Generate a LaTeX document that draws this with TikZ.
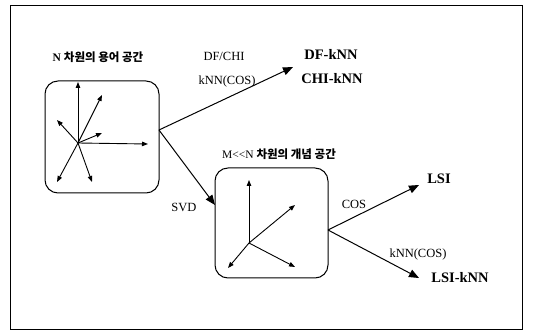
\documentclass[tikz,border=0pt]{standalone}
\usepackage{fontspec}
\setmainfont{Liberation Serif}
\newfontfamily\kr{Noto Sans CJK KR}
\usetikzlibrary{arrows.meta}
\tikzset{
  frame/.style={draw, line width=0.9pt},
  spacebox/.style={draw, line width=1pt, rounded corners=13pt, minimum width=114pt, minimum height=112pt, inner sep=0pt},
  vec/.style={line width=0.9pt, -{Triangle[length=6pt,width=4.5pt]}},
  conn/.style={line width=1pt, -{Triangle[length=10pt,width=8pt]}},
  lab/.style={font=\fontsize{12.5}{14}\selectfont, inner sep=0pt},
  res/.style={font=\fontsize{14.5}{16}\selectfont\bfseries, inner sep=0pt},
  krlab/.style={font=\fontsize{11.5}{13}\selectfont, inner sep=0pt}
}
\begin{document}
\begin{tikzpicture}[x=1pt,y=-1pt]
\useasboundingbox (0,0) rectangle (533,331);
\draw[frame] (10,5) rectangle (522,329);

% boxes
\node[spacebox] (b1) at (102,137) {};
\node[spacebox, minimum width=113pt, minimum height=110pt] (b2) at (271.5,223) {};

% vectors in box 1
\coordinate (o1) at (78,143);
\draw[vec] (o1) -- (78,82);
\draw[vec] (o1) -- (102,95);
\draw[vec] (o1) -- (57,120);
\draw[vec] (o1) -- (102,133);
\draw[vec] (o1) -- (148,144);
\draw[vec] (o1) -- (57,182);
\draw[vec] (o1) -- (92,182);

% vectors in box 2
\coordinate (o2) at (249,243);
\draw[vec] (o2) -- (249,180);
\draw[vec] (o2) -- (295,205);
\draw[vec] (o2) -- (228,268);
\draw[vec] (o2) -- (295,267);

% labels
\node[krlab] (t1) at (98,57) {\textbf{N} {\kr\bfseries 차원의 용어 공간}};
\node[krlab] (t2) at (279,154) {M{<}{<}N {\kr\bfseries 차원의 개념 공간}};
\node[lab] (dfchi) at (224,56) {DF/CHI};
\node[lab] (knn1) at (227,81) {kNN(COS)};
\node[lab] (svd) at (184,207) {SVD};
\node[lab] (cos) at (354,204) {COS};
\node[lab] (knn2) at (418,254) {kNN(COS)};
\node[res] (dfknn) at (331,54) {DF-kNN};
\node[res] (chiknn) at (332,79) {CHI-kNN};
\node[res] (lsi) at (439,179) {LSI};
\node[res] (lsiknn) at (460,278) {LSI-kNN};

% connectors
\coordinate (s1) at (159,130);
\coordinate (e1) at (293,67);
\coordinate (e2) at (215,205);
\coordinate (s2) at (328,230);
\coordinate (e3) at (419,185);
\coordinate (e4) at (419,278);
\draw[conn] (s1) -- (e1);
\draw[conn] (s1) -- (e2);
\draw[conn] (s2) -- (e3);
\draw[conn] (s2) -- (e4);
\end{tikzpicture}
\end{document}
